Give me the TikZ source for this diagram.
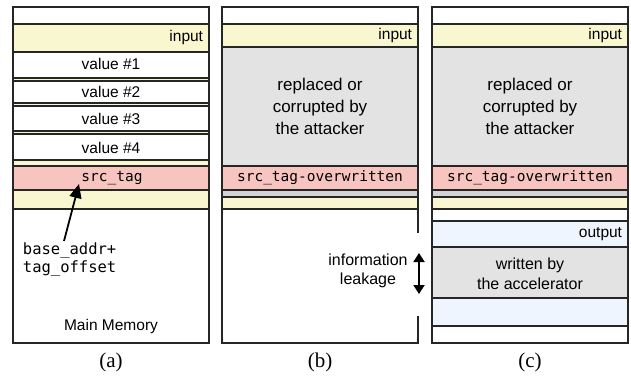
\documentclass[tikz,border=0pt]{standalone}
\usepackage{fontspec}
\setmainfont{Liberation Sans}
\newfontfamily\codefont{DejaVu Sans Mono}
\newfontfamily\capfont{Liberation Serif}
\usetikzlibrary{arrows.meta}
\definecolor{memyellow}{RGB}{248,247,208}
\definecolor{tagpink}{RGB}{248,196,192}
\definecolor{attgray}{RGB}{227,227,227}
\definecolor{stripgray}{RGB}{212,212,212}
\definecolor{outblue}{RGB}{238,245,254}

\begin{document}
\begin{tikzpicture}[x=1pt,y=1pt,yscale=-1,xscale=1,
    band/.style={draw=black!85,line width=1.2pt},
    lbl/.style={inner sep=0.75pt,font=\fontsize{15.5}{18}\selectfont},
    bigl/.style={inner sep=0.75pt,align=center,font=\fontsize{17}{22}\selectfont},
    code/.style={inner sep=0.75pt,font=\codefont\fontsize{14.5}{18}\selectfont},
    capt/.style={inner sep=0.75pt,font=\capfont\fontsize{21}{24}\selectfont},
    ptr/.style={-{Triangle[length=14pt,width=12pt]},line width=1.8pt},
    leak/.style={{Triangle[length=9pt,width=11pt]}-{Triangle[length=9pt,width=11pt]},line width=1.8pt}]
\useasboundingbox (0,0) rectangle (631,379);

%Panel (a): main memory
\draw [band,fill=white] (13,7) rectangle (209,24);
\draw [band,fill=memyellow] (13,24) rectangle (209,52);
\draw [band,fill=white] (13,52) rectangle (209,78);
\draw [band,fill=memyellow] (13,78) rectangle (209,81);
\draw [band,fill=white] (13,81) rectangle (209,103);
\draw [band,fill=memyellow] (13,103) rectangle (209,106);
\draw [band,fill=white] (13,106) rectangle (209,131);
\draw [band,fill=memyellow] (13,131) rectangle (209,134);
\draw [band,fill=white] (13,134) rectangle (209,160);
\draw [band,fill=memyellow] (13,160) rectangle (209,166);
\draw [band,fill=tagpink] (13,166) rectangle (209,190);
\draw [band,fill=memyellow] (13,190) rectangle (209,209);
\draw [band] (13,209) rectangle (209,343);

% Text Node
\node [lbl,anchor=east] (inA) at (204,37) {input};
\node [lbl] (valA) at (111,64) {value \#1};
\node [lbl] (valB) at (111,92) {value \#2};
\node [lbl] (valC) at (111,119) {value \#3};
\node [lbl] (valD) at (111,148) {value \#4};
\node [code] (tagA) at (112,178) {src\_tag};
\node [code,anchor=west,align=left,font=\codefont\fontsize{15.5}{18}\selectfont] (addr) at (22,259) {base\_addr+\\tag\_offset};
\node [lbl] (mem) at (111,326) {Main Memory};
\node [capt] (capA) at (111,362) {(a)};

% Pointer
\coordinate (ptrtail) at (64,241);
\coordinate (ptrtip) at (79,184);
\draw [ptr] (ptrtail) -- (ptrtip);

%Panel (b): overwritten tag
\draw [band,fill=white] (222,7) rectangle (418,24);
\draw [band,fill=memyellow] (222,24) rectangle (418,47);
\draw [band,fill=attgray] (222,47) rectangle (418,166);
\draw [band,fill=tagpink] (222,166) rectangle (418,190);
\draw [band,fill=stripgray] (222,190) rectangle (418,197);
\draw [band,fill=memyellow] (222,197) rectangle (418,209);
\draw [band] (418,233) -- (418,209) -- (222,209) -- (222,343) -- (418,343) -- (418,316);

% Text Node
\node [lbl,anchor=east] (inB) at (413,35) {input};
\node [bigl] (attB) at (320,106) {replaced or\\corrupted by\\the attacker};
\node [code] (tagB) at (320,178) {src\_tag-overwritten};
\node [lbl,align=center,font=\fontsize{16}{19}\selectfont] (leaktxt) at (368,271) {information\\leakage};
\node [capt] (capB) at (320,362) {(b)};

% Leak arrow
\coordinate (lktop) at (419,253);
\coordinate (lkbot) at (419,294);
\draw [leak] (lktop) -- (lkbot);

%Panel (c): accelerator output
\draw [band,fill=white] (432,7) rectangle (628,24);
\draw [band,fill=memyellow] (432,24) rectangle (628,47);
\draw [band,fill=attgray] (432,47) rectangle (628,166);
\draw [band,fill=tagpink] (432,166) rectangle (628,190);
\draw [band,fill=stripgray] (432,190) rectangle (628,197);
\draw [band,fill=memyellow] (432,197) rectangle (628,209);
\draw [band,fill=white] (432,209) rectangle (628,221);
\draw [band,fill=outblue] (432,221) rectangle (628,247);
\draw [band,fill=attgray] (432,247) rectangle (628,298);
\draw [band,fill=outblue] (432,298) rectangle (628,326);
\draw [band,fill=white] (432,326) rectangle (628,343);

% Text Node
\node [lbl,anchor=east] (inC) at (623,35) {input};
\node [bigl] (attC) at (530,106) {replaced or\\corrupted by\\the attacker};
\node [code] (tagC) at (530,178) {src\_tag-overwritten};
\node [lbl,anchor=east] (outC) at (623,234) {output};
\node [lbl,align=center,font=\fontsize{16}{20}\selectfont] (accC) at (530,274) {written by\\the accelerator};
\node [capt] (capC) at (530,362) {(c)};

\end{tikzpicture}
\end{document}
